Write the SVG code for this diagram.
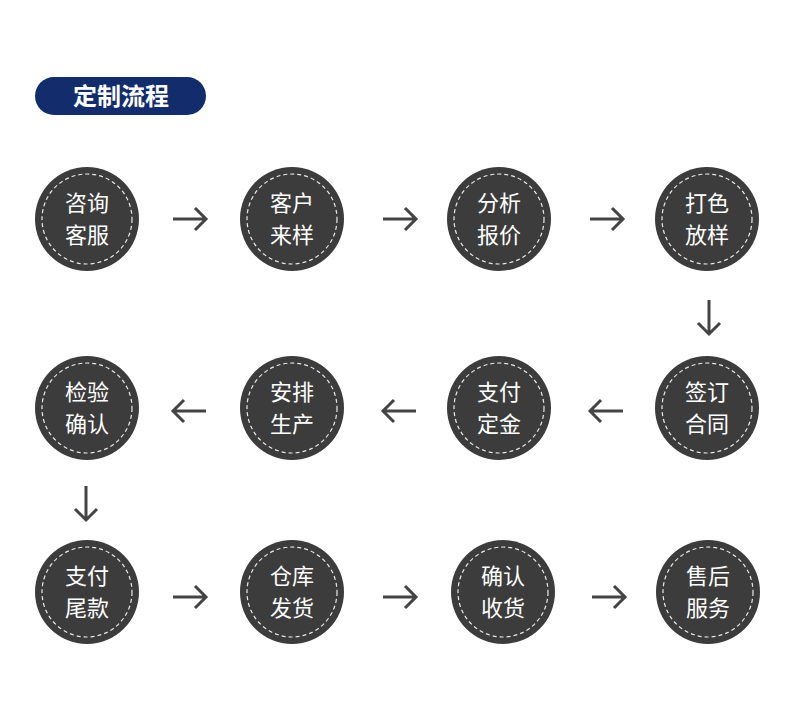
<svg xmlns="http://www.w3.org/2000/svg" width="790" height="716" viewBox="0 0 790 716">
<style>
.c{fill:#3c3c3c}
.d{fill:none;stroke:#e8e8e8;stroke-width:1.2;stroke-dasharray:4 3}
.t{fill:#ffffff;font-family:"Noto Sans CJK SC","Noto Sans",sans-serif;font-size:22px;text-anchor:middle}
.a{fill:none;stroke:#444444;stroke-width:3;stroke-linecap:butt;stroke-linejoin:miter}
</style>
<rect width="790" height="716" fill="#ffffff"/>
<g id="title">
<rect x="35" y="77" width="171" height="38" rx="19" fill="#132c6c"/>
<text x="121" y="105" style="fill:#fff;font-family:'Noto Sans CJK SC',sans-serif;font-size:24px;font-weight:bold;text-anchor:middle">定制流程</text>
</g>
<g id="n1"><circle class="c" cx="87" cy="219" r="52"/><circle class="d" cx="87" cy="219" r="45"/><text class="t" x="87" y="211">咨询<tspan x="87" dy="32">客服</tspan></text></g>
<g id="n2"><circle class="c" cx="292" cy="219" r="52"/><circle class="d" cx="292" cy="219" r="45"/><text class="t" x="292" y="211">客户<tspan x="292" dy="32">来样</tspan></text></g>
<g id="n3"><circle class="c" cx="499" cy="219" r="52"/><circle class="d" cx="499" cy="219" r="45"/><text class="t" x="499" y="211">分析<tspan x="499" dy="32">报价</tspan></text></g>
<g id="n4"><circle class="c" cx="707" cy="219" r="52"/><circle class="d" cx="707" cy="219" r="45"/><text class="t" x="707" y="211">打色<tspan x="707" dy="32">放样</tspan></text></g>
<g id="n5"><circle class="c" cx="707" cy="408" r="52"/><circle class="d" cx="707" cy="408" r="45"/><text class="t" x="707" y="400">签订<tspan x="707" dy="32">合同</tspan></text></g>
<g id="n6"><circle class="c" cx="499" cy="408" r="52"/><circle class="d" cx="499" cy="408" r="45"/><text class="t" x="499" y="400">支付<tspan x="499" dy="32">定金</tspan></text></g>
<g id="n7"><circle class="c" cx="292" cy="408" r="52"/><circle class="d" cx="292" cy="408" r="45"/><text class="t" x="292" y="400">安排<tspan x="292" dy="32">生产</tspan></text></g>
<g id="n8"><circle class="c" cx="87" cy="408" r="52"/><circle class="d" cx="87" cy="408" r="45"/><text class="t" x="87" y="400">检验<tspan x="87" dy="32">确认</tspan></text></g>
<g id="n9"><circle class="c" cx="87" cy="592" r="52"/><circle class="d" cx="87" cy="592" r="45"/><text class="t" x="87" y="584">支付<tspan x="87" dy="32">尾款</tspan></text></g>
<g id="n10"><circle class="c" cx="292" cy="592" r="52"/><circle class="d" cx="292" cy="592" r="45"/><text class="t" x="292" y="584">仓库<tspan x="292" dy="32">发货</tspan></text></g>
<g id="n11"><circle class="c" cx="503" cy="592" r="52"/><circle class="d" cx="503" cy="592" r="45"/><text class="t" x="503" y="584">确认<tspan x="503" dy="32">收货</tspan></text></g>
<g id="n12"><circle class="c" cx="708" cy="592" r="52"/><circle class="d" cx="708" cy="592" r="45"/><text class="t" x="708" y="584">售后<tspan x="708" dy="32">服务</tspan></text></g>
<g id="connectors">
<path class="a" d="M173 219H206M195 208L206 219L195 230"/>
<path class="a" d="M383 219H416M405 208L416 219L405 230"/>
<path class="a" d="M590 219H623M612 208L623 219L612 230"/>
<path class="a" d="M709 300V334M698 323L709 334L720 323"/>
<path class="a" d="M623 411H590M601 400L590 411L601 422"/>
<path class="a" d="M416 411H383M394 400L383 411L394 422"/>
<path class="a" d="M206 411H173M184 400L173 411L184 422"/>
<path class="a" d="M86 486V520M75 509L86 520L97 509"/>
<path class="a" d="M173 597H206M195 586L206 597L195 608"/>
<path class="a" d="M383 597H416M405 586L416 597L405 608"/>
<path class="a" d="M592 597H625M614 586L625 597L614 608"/>
</g>
</svg>
